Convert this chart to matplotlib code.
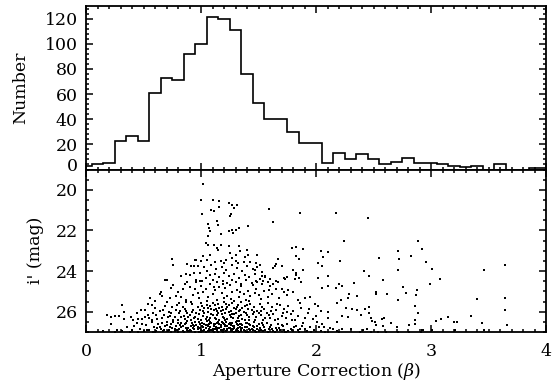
import numpy as np
import matplotlib
matplotlib.use("Agg")
import matplotlib.pyplot as plt
from matplotlib.ticker import MultipleLocator
import matplotlib.transforms as mtransforms

# ---------------- data ----------------
bin_start = -0.05
bin_width = 0.1
hist_counts = [3, 4, 5, 23, 27, 23, 61, 73, 71, 92, 100, 121, 120, 111, 76, 53,
               40, 40, 30, 21, 21, 5, 13, 8, 12, 8, 4, 6, 9, 5, 5, 4, 3, 2, 3,
               0, 4, 0, 0, 1, 1]

pts_bright = [(1.02,19.71),(1.00,20.48),(1.10,20.48),(1.16,20.56),(1.24,20.65),(1.27,20.73),(1.29,20.89),
 (1.31,20.73),(1.09,20.97),(1.11,21.06),(1.16,20.86),(1.01,21.19),(1.26,21.19),(1.25,21.30),(1.06,21.68),
 (1.07,21.88),(1.08,22.05),(1.06,22.29),(1.14,21.55),(1.15,21.75),(1.24,22.01),(1.27,21.96),(1.30,21.96),
 (1.28,22.13),(1.33,21.88),(1.41,21.80),(1.17,22.18),(1.04,22.62),(1.06,22.74),(1.11,22.70),(1.14,22.87),
 (1.15,22.95),(1.17,22.70),(1.08,23.20),(1.02,23.28),(1.24,22.79),(1.25,23.11),(1.33,22.79),(1.34,23.00),
 (1.30,23.20),(1.40,22.95),(1.41,23.20),(1.38,23.33),(1.27,23.36),(0.96,23.44),(1.00,23.49),(1.05,23.44),
 (1.12,23.56),(1.17,23.49),(1.20,23.61),(1.22,23.44),(1.30,23.49),(1.32,23.61),(1.37,23.53),(1.43,23.56),
 (1.48,23.61),(1.49,23.20),(1.59,20.93),(1.86,21.14),(1.63,21.58),(1.79,22.87),(1.83,22.82),(1.89,22.92),
 (1.83,23.28),(1.85,23.41),(1.67,23.41),(0.75,23.39),(0.76,23.69),(0.88,23.66),(0.91,23.74),(0.94,23.74),
 (0.95,23.44),(1.65,23.66)]

pts_band_a = [(0.87,24.15),(0.90,24.19),(0.94,24.10),(0.69,24.46),(0.70,24.43),(0.83,24.25),(0.97,23.75),
 (1.03,23.82),(1.09,23.70),(1.13,23.88),(1.18,23.78),(1.22,23.95),(1.27,23.72),(1.31,23.85),(1.36,23.98),
 (1.40,23.76),(1.45,23.90),(1.49,23.82),(1.53,24.05),(0.99,24.10),(1.05,24.02),(1.08,24.20),(1.12,24.12),
 (1.16,24.30),(1.20,24.08),(1.24,24.22),(1.29,24.15),(1.33,24.35),(1.38,24.18),(1.42,24.28),(1.47,24.12),
 (1.51,24.38),(1.56,24.22),(1.60,24.40),(0.96,24.42),(1.01,24.50),(1.04,24.36),(1.10,24.45),(1.19,24.48),
 (1.27,24.42),(1.39,24.45),(1.48,24.50),(1.64,23.74),(1.80,23.94),(1.51,23.72),(1.63,23.85),(1.70,23.77),
 (1.47,23.94),(1.83,24.10),(1.82,24.40),(1.89,23.94),(1.53,24.23),(1.56,24.30),(1.54,24.48),(1.72,24.35),
 (1.73,24.40),(1.75,24.27),(1.83,24.19),(1.85,24.35),(1.87,24.56),(1.65,24.48),(0.88,24.56),(0.96,24.56),
 (0.99,24.48)]

pts_band_b = [(1.14,24.55),(1.23,24.60),(1.30,24.52),(1.35,24.62),(1.44,24.58),(1.53,24.65),(1.58,24.55),
 (1.63,24.62),(1.67,24.52),(0.86,24.62),(0.76,24.70),(0.74,24.84),(0.65,25.01),(0.64,25.12),(0.84,24.89),
 (0.90,24.79),(0.93,25.17),(0.97,25.09),(0.73,25.34),(0.78,25.22),(0.87,25.42),(0.91,25.50),(1.49,24.55),
 (1.60,24.73),(1.65,24.88),(1.70,24.89),(1.76,24.93),(1.72,25.01),(1.90,25.34),(1.48,24.88),(1.50,25.20),
 (1.59,24.93),(1.00,24.72),(1.02,25.05),(1.04,24.88),(1.06,25.30),(1.08,24.65),(1.10,25.15),(1.12,24.95),
 (1.14,25.42),(1.16,24.78),(1.18,25.10),(1.20,25.35),(1.21,24.85),(1.23,25.22),(1.25,24.70),(1.27,25.02),
 (1.29,25.45),(1.31,24.92),(1.33,25.28),(1.35,24.75),(1.37,25.12),(1.39,25.40),(1.41,24.98),(1.43,25.25),
 (1.45,24.68),(1.47,25.08),(1.52,25.38),(1.55,25.00),(1.58,25.30),(1.62,25.15),(1.68,25.35),(1.75,25.20),
 (1.80,25.05),(1.84,25.42),(1.95,25.28),(0.80,25.05),(0.83,25.30),(0.95,24.88),(0.98,25.32),(1.05,25.48),
 (1.11,24.80),(1.19,24.62),(1.26,25.38),(1.34,25.05),(1.42,25.48),(0.60,25.45),(0.56,25.35),(0.66,25.25)]

pts_band_c = [(0.18,26.16),(0.22,26.24),(0.25,26.20),(0.29,26.21),(0.31,25.67),(0.33,26.00),(0.33,26.37),
 (0.39,26.28),(0.41,26.41),(0.45,26.37),(0.48,25.91),(0.51,25.91),(0.51,26.25),(0.54,26.16),(0.54,25.62),
 (0.57,25.67),(0.58,26.04),(0.61,26.16),(0.55,26.33),(0.62,26.37),(0.64,25.99),(0.67,25.91),(0.68,26.16),
 (0.71,26.28),(0.70,25.50),(0.74,26.08),(0.75,25.75),(0.77,26.28),(0.78,25.91),(0.80,26.41),(0.81,26.08),
 (0.81,25.58),(0.83,26.24),(0.84,25.75),(0.86,26.37),(0.87,25.99),(0.87,25.52),(0.90,26.16),(0.91,26.41),
 (0.93,25.91),(0.94,26.33),(0.96,26.08),(0.97,25.75),(0.99,25.91),(1.00,26.41),(0.92,25.60),
 (1.00,25.55),(1.02,26.20),(1.03,25.80),(1.04,26.35),(1.05,25.65),(1.06,26.02),(1.07,26.42),(1.08,25.72),
 (1.09,26.12),(1.10,25.58),(1.11,25.92),(1.12,26.30),(1.13,25.85),(1.14,26.15),(1.15,25.62),(1.16,26.40),
 (1.17,25.98),(1.18,25.75),(1.19,26.25),(1.20,25.52),(1.21,26.08),(1.22,25.88),(1.23,26.38),(1.24,25.68),
 (1.25,26.18),(1.26,25.95),(1.27,25.57),(1.28,26.30),(1.29,25.80),(1.30,26.05),(1.31,26.44),(1.32,25.65),
 (1.33,26.22),(1.34,25.90),(1.35,25.54),(1.36,26.35),(1.37,26.00),(1.38,25.72),(1.40,26.15),(1.41,25.85),
 (1.42,26.40),(1.43,25.60),(1.45,26.10),(1.46,25.78),(1.48,26.28),(1.49,25.95),(1.51,25.62),(1.52,26.18),
 (1.54,26.42),(1.55,25.85),(1.57,26.05),(1.58,25.55),(1.60,26.30),(1.62,25.75),(1.63,26.12),(1.65,25.92),
 (1.67,26.38),(1.69,25.65),(1.70,26.20),(1.72,25.88),(1.74,26.32),(1.76,25.70),(1.78,26.10),(1.80,25.95),
 (1.82,26.40),(1.84,26.22),(1.87,25.80),(1.90,26.30),(1.93,26.05),(1.97,26.38),(2.00,26.20),
 (0.82,25.95),(0.85,26.20),(0.88,26.05),(0.95,26.25),(0.98,26.12),(1.01,25.70),(1.03,26.05),(1.06,25.82),
 (1.08,26.30),(1.10,26.18),(1.12,25.68),(1.14,25.95),(1.16,25.80),(1.18,26.12),(1.20,26.32),(1.22,25.62),
 (1.24,26.02),(1.26,26.28),(1.29,26.10),(1.31,25.75),(1.33,25.98),(1.35,26.15),(1.38,26.40),(1.40,25.65),
 (1.44,25.92),(1.47,26.40),(1.50,26.05),(1.53,25.78),
 (0.44,26.05),(0.49,26.35),(0.57,26.42),(0.60,25.80),(0.66,26.30),(0.69,25.70),(0.72,26.00),(0.76,26.40),
 (0.79,25.65),(1.56,26.30),(1.61,25.95),(1.66,25.60),(1.71,26.05),(1.79,26.42),(1.86,25.55),(1.94,25.85),
 (1.99,25.60),
 (0.73,26.20),(0.86,25.85),(0.89,26.28),(0.92,26.00),(0.97,26.35),(1.02,25.95),(1.05,26.27),(1.09,25.88),
 (1.13,26.38),(1.15,26.05),(1.19,25.92),(1.21,26.42),(1.23,25.78),(1.27,26.12),(1.30,25.88),(1.32,26.32),
 (1.36,25.82),(1.39,26.05),(1.42,26.25),(1.46,26.00),(1.52,25.95),(1.59,26.18),(1.64,26.40),(1.75,26.00)]

pts_band_d = [(0.15,26.95),(0.22,26.62),(0.27,26.88),(0.31,26.97),(0.36,26.74),(0.40,26.92),(0.44,26.58),
 (0.47,26.83),(0.50,26.96),(0.52,26.67),(0.55,26.88),(0.57,26.52),(0.59,26.76),(0.61,26.94),(0.63,26.63),
 (0.65,26.83),(0.67,26.97),(0.69,26.71),(0.70,26.50),(0.72,26.88),(0.74,26.60),(0.75,26.79),(0.77,26.95),
 (0.78,26.68),(0.80,26.55),(0.81,26.86),(0.83,26.73),(0.84,26.97),(0.86,26.61),(0.87,26.81),(0.88,26.48),
 (0.90,26.92),(0.91,26.69),(0.92,26.57),(0.94,26.84),(0.95,26.98),(0.96,26.64),(0.97,26.76),(0.98,26.52),
 (1.00,26.89),(1.01,26.71),(1.02,26.95),(1.03,26.59),(1.04,26.82),(1.05,26.47),(1.06,26.68),(1.07,26.93),
 (1.08,26.77),(1.09,26.55),(1.10,26.86),(1.11,26.98),(1.12,26.63),(1.13,26.74),(1.14,26.90),(1.15,26.51),
 (1.16,26.80),(1.17,26.66),(1.18,26.96),(1.19,26.58),(1.20,26.85),(1.21,26.72),(1.22,26.49),(1.23,26.92),
 (1.24,26.62),(1.25,26.78),(1.26,26.97),(1.27,26.55),(1.28,26.87),(1.29,26.69),(1.30,26.94),(1.31,26.60),
 (1.32,26.81),(1.33,26.48),(1.34,26.73),(1.35,26.96),(1.36,26.64),(1.37,26.89),(1.39,26.56),(1.40,26.77),
 (1.41,26.98),(1.43,26.67),(1.44,26.84),(1.46,26.52),(1.47,26.93),(1.49,26.71),(1.50,26.61),(1.52,26.88),
 (1.54,26.97),(1.55,26.74),(1.57,26.54),(1.59,26.85),(1.61,26.66),(1.63,26.95),(1.65,26.78),(1.67,26.59),
 (1.69,26.90),(1.71,26.70),(1.73,26.98),(1.75,26.62),(1.78,26.83),(1.80,26.94),(1.83,26.68),(1.86,26.87),
 (1.89,26.56),(1.92,26.97),(1.95,26.76),(1.98,26.90),(2.04,26.96),(2.12,26.82),(2.18,26.95),
 (0.58,26.99),(0.62,26.80),(0.66,26.58),(0.71,26.93),(0.73,26.76),(0.76,26.53),(0.79,26.91),(0.82,26.64),
 (0.85,26.99),(0.87,26.55),(0.89,26.78),(0.91,26.96),(0.93,26.66),(0.95,26.50),(0.97,26.87),(0.99,26.61),
 (1.00,26.99),(1.02,26.75),(1.03,26.88),(1.05,26.64),(1.06,26.97),(1.08,26.52),(1.09,26.91),(1.11,26.70),
 (1.12,26.84),(1.14,26.58),(1.15,26.99),(1.17,26.75),(1.18,26.53),(1.19,26.89),(1.21,26.65),(1.22,26.97),
 (1.24,26.81),(1.25,26.57),(1.27,26.93),(1.28,26.70),(1.30,26.52),(1.31,26.86),(1.33,26.99),(1.34,26.63),
 (1.36,26.79),(1.38,26.94),(1.40,26.58),(1.42,26.85),(1.45,26.69),(1.48,26.99),(1.51,26.79),(1.53,26.56),
 (1.56,26.92),(1.60,26.75),(1.64,26.99),(1.68,26.80),(1.72,26.88),(1.76,26.96),(1.81,26.74),(1.85,26.99),
 (1.90,26.84),
 (0.84,26.70),(0.89,26.95),(0.93,26.80),(0.98,26.99),(1.01,26.56),(1.04,26.99),(1.07,26.62),(1.10,26.95),
 (1.13,26.82),(1.16,26.60),(1.19,26.99),(1.23,26.70),(1.26,26.86),(1.29,26.99),(1.32,26.66),(1.35,26.84),
 (1.39,26.99),(1.43,26.92),(1.46,26.77),(1.50,26.95),(1.58,26.99),(1.66,26.92),(1.74,26.99),(1.84,26.90),
 (0.60,26.99),(0.68,26.88),(0.74,26.99),(0.80,26.99),(0.45,26.99),(0.38,26.99),(0.25,26.99),(1.96,26.99),
 (2.08,26.99),
 (0.42,26.70),(0.49,26.60),(0.53,26.90),(0.64,26.73),(0.70,26.64),(0.77,26.84),(0.83,26.56),(0.88,26.88),
 (0.94,26.72),(0.99,26.82),(1.04,26.67),(1.07,26.86),(1.11,26.59),(1.14,26.78),(1.17,26.92),(1.20,26.62),
 (1.23,26.84),(1.26,26.67),(1.29,26.79),(1.32,26.93),(1.35,26.62),(1.38,26.73),(1.42,26.60),(1.45,26.91),
 (1.49,26.83),(1.54,26.66),(1.62,26.86),(1.70,26.64),(1.79,26.92),(1.88,26.72)]

pts_tail = [(2.17,21.14),(2.45,21.39),(2.24,22.54),(2.89,22.54),(2.92,22.90),(2.04,23.03),(2.10,23.08),
 (2.71,23.03),(2.06,23.33),(2.21,23.49),(2.55,23.36),(2.72,23.41),(2.83,23.28),(2.96,23.56),(2.02,23.61),
 (2.05,23.74),(3.01,23.90),(2.42,24.02),(2.46,24.23),(2.71,23.94),(2.10,24.23),(2.02,24.35),(2.58,24.43),
 (2.20,24.63),(2.23,24.73),(2.33,24.60),(2.99,24.63),(2.05,24.85),(2.10,24.73),(2.17,24.81),(2.76,24.79),
 (2.88,24.93),(2.52,25.04),(2.52,25.14),(2.62,25.12),(2.78,25.09),(2.29,25.12),(2.87,25.20),(2.36,25.25),
 (2.28,25.34),(2.22,25.42),(2.71,25.42),(2.18,25.55),(2.02,25.72),(2.46,25.75),(2.86,25.72),(2.26,25.80),
 (2.31,25.88),(2.36,25.91),(2.43,25.88),(2.04,25.96),(2.10,26.00),(2.89,26.05),(2.39,26.16),(2.23,26.21),
 (2.28,26.27),(2.46,26.08),(2.10,26.32),(2.48,26.32),(2.57,26.37),(2.59,26.32),(2.49,26.44),(2.51,26.49),
 (2.86,26.41),(2.01,26.49),(2.05,26.60),(2.07,26.75),(2.03,26.74),(2.18,26.53),(2.52,26.65),(2.58,26.70),
 (2.65,26.57),(2.70,26.77),(2.86,26.60),(2.81,26.65),(2.92,26.90),(2.15,26.87),(2.23,26.85),(2.30,26.87),
 (2.44,26.85),(2.41,26.90),(3.04,26.44),(3.01,26.90),(2.10,26.98),(2.20,26.98),(2.38,26.98),(2.48,26.98),
 (2.54,26.98),(2.61,26.98),(2.71,26.98),(2.81,26.98),(2.91,26.98),
 (3.08,24.37),(3.46,23.94),(3.64,23.68),(3.40,25.39),(3.64,25.31),(3.64,25.91),(3.35,26.19),(3.09,26.37),
 (3.15,26.27),(3.20,26.51),(3.23,26.51),(3.44,26.54),(3.66,26.65),(3.21,26.90),(3.46,26.90),(2.93,26.90)]

# ---------------- figure ----------------
plt.rcParams['font.family'] = ['DejaVu Serif']
plt.rcParams['mathtext.fontset'] = 'dejavuserif'
FS = 12.5

fig = plt.figure(figsize=(5.53, 3.87), dpi=100)
L, R = 86 / 553, 546 / 553
ax1 = fig.add_axes([L, 1 - 169.5 / 387, R - L, (169.5 - 6) / 387])
ax2 = fig.add_axes([L, 1 - 332 / 387, R - L, (332 - 169.5) / 387])

edges = bin_start + bin_width * np.arange(len(hist_counts) + 1)
ax1.stairs(hist_counts, edges, color='black', linewidth=1.2, baseline=None)
ax1.set_xlim(0, 4)
ax1.set_ylim(0, 130)
ax1.yaxis.set_major_locator(MultipleLocator(20))
ax1.yaxis.set_minor_locator(MultipleLocator(4))
ax1.set_ylabel('Number', fontsize=FS, labelpad=11)
ax1.tick_params(labelbottom=False)

all_pts = pts_bright + pts_band_a + pts_band_b + pts_band_c + pts_band_d + pts_tail
beta = [p[0] for p in all_pts]
imag = [p[1] for p in all_pts]
ax2.scatter(beta, imag, s=1.3, marker='s', c='black', linewidths=0)
ax2.set_xlim(0, 4)
ax2.set_ylim(27, 19)
ax2.yaxis.set_minor_locator(MultipleLocator(0.5))
ax2.set_yticks([20, 22, 24, 26])
ax2.set_ylabel("i' (mag)", fontsize=FS, labelpad=8)
ax2.set_xlabel('Aperture Correction ($\\beta$)', fontsize=FS, labelpad=1)

for ax in (ax1, ax2):
    ax.xaxis.set_major_locator(MultipleLocator(1))
    ax.xaxis.set_minor_locator(MultipleLocator(0.1))
    ax.tick_params(which='both', direction='in', top=True, right=True,
                   width=1.1, labelsize=FS)
    ax.tick_params(which='major', length=5)
    ax.tick_params(which='minor', length=2.5)
    ax.tick_params(axis='x', pad=8)
    ax.tick_params(axis='y', pad=6)
    for s in ax.spines.values():
        s.set_linewidth(1.3)

# shift the "0" label of the histogram slightly upward, as in the original
fig.canvas.draw()
for lab in ax1.get_yticklabels():
    if lab.get_text() in ('0', '−0'):
        lab.set_transform(lab.get_transform() +
                          mtransforms.ScaledTranslation(0, 5 / 100, fig.dpi_scale_trans))

fig.savefig('out.png', dpi=100)
